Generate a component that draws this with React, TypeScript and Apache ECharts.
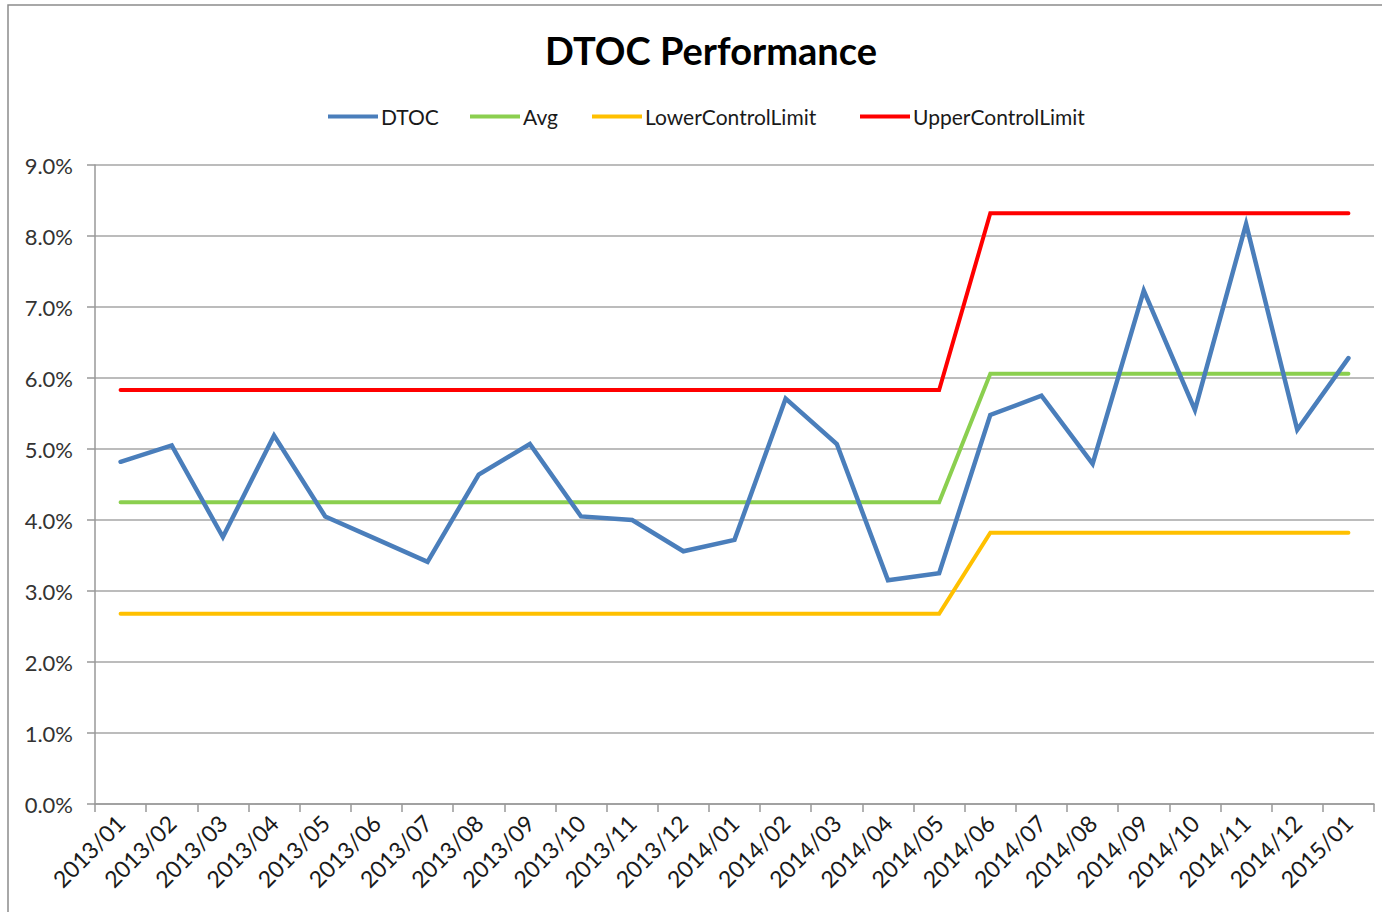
import React, { useEffect, useRef } from "react";
import * as echarts from "echarts";

const categories = [
  "2013/01", "2013/02", "2013/03", "2013/04", "2013/05", "2013/06", "2013/07",
  "2013/08", "2013/09", "2013/10", "2013/11", "2013/12", "2014/01", "2014/02",
  "2014/03", "2014/04", "2014/05", "2014/06", "2014/07", "2014/08", "2014/09",
  "2014/10", "2014/11", "2014/12", "2015/01",
];

const dtoc = [
  4.82, 5.05, 3.76, 5.19, 4.05, 3.73, 3.41, 4.64, 5.07, 4.05, 4.0, 3.56, 3.72,
  5.71, 5.07, 3.15, 3.25, 5.48, 5.75, 4.79, 7.23, 5.55, 8.17, 5.27, 6.28,
];

const avg = [
  4.25, 4.25, 4.25, 4.25, 4.25, 4.25, 4.25, 4.25, 4.25, 4.25, 4.25, 4.25, 4.25,
  4.25, 4.25, 4.25, 4.25, 6.06, 6.06, 6.06, 6.06, 6.06, 6.06, 6.06, 6.06,
];

const lowerControlLimit = [
  2.68, 2.68, 2.68, 2.68, 2.68, 2.68, 2.68, 2.68, 2.68, 2.68, 2.68, 2.68, 2.68,
  2.68, 2.68, 2.68, 2.68, 3.82, 3.82, 3.82, 3.82, 3.82, 3.82, 3.82, 3.82,
];

const upperControlLimit = [
  5.83, 5.83, 5.83, 5.83, 5.83, 5.83, 5.83, 5.83, 5.83, 5.83, 5.83, 5.83, 5.83,
  5.83, 5.83, 5.83, 5.83, 8.32, 8.32, 8.32, 8.32, 8.32, 8.32, 8.32, 8.32,
];

const seriesNames = ["DTOC", "Avg", "LowerControlLimit", "UpperControlLimit"];
const seriesColors = ["#4a7ebb", "#8bcf4f", "#ffc000", "#ff0000"];
const seriesData = [dtoc, avg, lowerControlLimit, upperControlLimit];
const legendLefts = [323, 465, 587, 855];

const FONT = "Lato, 'Open Sans', sans-serif";

export default function App() {
  const ref = useRef<HTMLDivElement>(null);

  useEffect(() => {
    document.body.style.margin = "0";
    if (!ref.current) return;
    const chart = echarts.init(ref.current, null, { renderer: "svg" });
    chart.setOption({
      animation: false,
      backgroundColor: "#ffffff",
      textStyle: { fontFamily: FONT },
      title: {
        text: "DTOC Performance",
        left: 706,
        top: 26,
        textAlign: "center",
        textStyle: {
          fontFamily: FONT,
          fontWeight: "bold",
          fontSize: 38,
          color: "#000000",
        },
      },
      legend: seriesNames.map((name, i) => ({
        left: legendLefts[i],
        top: 101,
        itemWidth: 50,
        itemHeight: 4,
        icon: "rect",
        data: [name],
        textStyle: {
          fontFamily: FONT,
          fontSize: 21,
          color: "#1a1a1a",
          padding: [0, 0, 0, -2],
        },
      })),
      graphic: [
        {
          type: "rect",
          shape: { x: 8, y: 5, width: 1400, height: 940 },
          style: { fill: "none", stroke: "#8c8c8c", lineWidth: 1.5 },
          silent: true,
          z: 100,
        },
      ],
      grid: {
        left: 95,
        right: 8,
        top: 165,
        bottom: 108,
        containLabel: false,
      },
      xAxis: {
        type: "category",
        data: categories,
        boundaryGap: true,
        axisLine: { show: true, lineStyle: { color: "#999999", width: 1.5 } },
        axisTick: {
          show: true,
          alignWithLabel: false,
          length: 8,
          lineStyle: { color: "#999999", width: 1.5 },
        },
        axisLabel: {
          interval: 0,
          rotate: 45,
          margin: 15,
          fontSize: 23,
          fontFamily: FONT,
          color: "#1a1a1a",
        },
        splitLine: { show: false },
      },
      yAxis: {
        type: "value",
        min: 0,
        max: 9,
        interval: 1,
        axisLine: { show: true, lineStyle: { color: "#999999", width: 1.5 } },
        axisTick: {
          show: true,
          length: 8,
          lineStyle: { color: "#999999", width: 1.5 },
        },
        axisLabel: {
          formatter: (v: number) => v.toFixed(1) + "%",
          fontSize: 22,
          fontFamily: FONT,
          color: "#333333",
          margin: 22,
        },
        splitLine: { show: true, lineStyle: { color: "#a6a6a6", width: 1.5 } },
      },
      series: seriesNames.map((name, i) => ({
        name,
        type: "line",
        data: seriesData[i],
        symbol: "none",
        showSymbol: false,
        color: seriesColors[i],
        lineStyle: { color: seriesColors[i], width: i === 0 ? 4.5 : 4, cap: "round", join: "miter" },
        z: i === 0 ? 3 : 2,
      })),
    });
    return () => chart.dispose();
  }, []);

  return (
    <div
      ref={ref}
      style={{ position: "absolute", left: 0, top: 0, width: 1382, height: 912 }}
    />
  );
}
